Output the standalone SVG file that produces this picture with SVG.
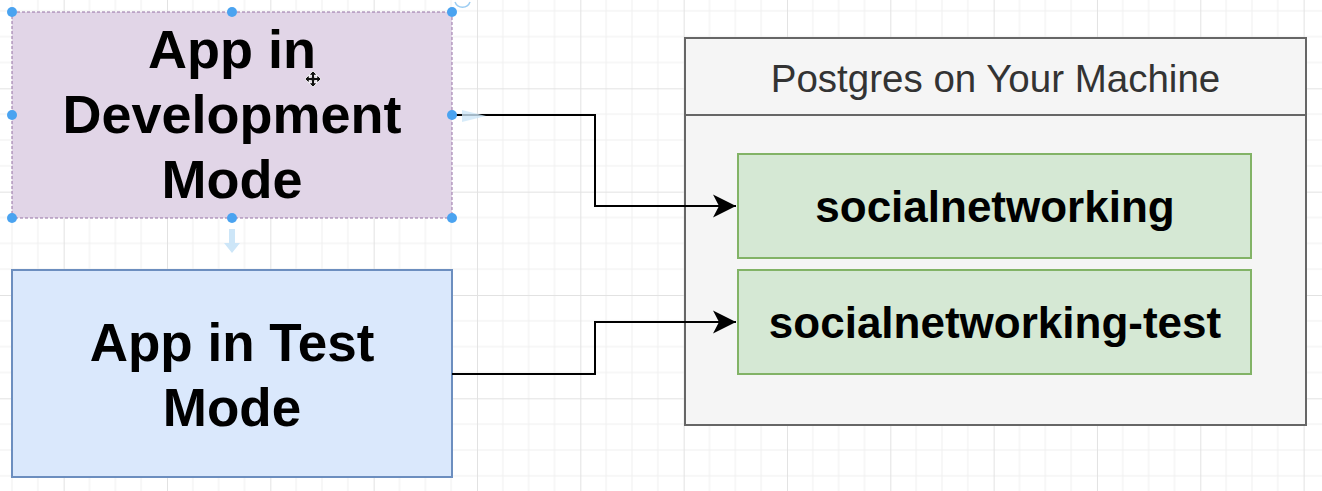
<svg xmlns="http://www.w3.org/2000/svg" width="1322" height="491" viewBox="0 0 1322 491">
<style>
.bold{font-family:"Liberation Sans",Arial,sans-serif;font-weight:bold;fill:#000;text-anchor:middle}
.title{font-family:"Liberation Sans",Arial,sans-serif;fill:#333;text-anchor:middle;font-size:38.5px}
.conn{fill:none;stroke:#000;stroke-width:2}
.handle{fill:#4aa3f0}
.hint{fill:#cde6f8}
</style>
<defs>
<pattern id="grid" patternUnits="userSpaceOnUse" x="63.67" y="88.33" width="103.33" height="103.33">
<path d="M25.83 0V103.33M51.67 0V103.33M77.5 0V103.33M0 25.83H103.33M0 51.67H103.33M0 77.5H103.33" stroke="#f0f0f0" stroke-width="1" fill="none"/>
<path d="M0.5 0V103.33M0 0.5H103.33" stroke="#e2e2e2" stroke-width="1" fill="none"/>
</pattern>
<marker id="arrow" markerUnits="userSpaceOnUse" markerWidth="24" markerHeight="26" viewBox="0 0 24 26" refX="23" refY="13" orient="auto">
<path d="M23 13L0 1.5L6 13L0 24.5Z" fill="#000"/>
</marker>
</defs>
<rect width="1322" height="491" fill="#fff"/>
<rect width="1322" height="491" fill="url(#grid)"/>

<g id="postgres">
<rect x="685" y="38" width="621" height="387" fill="#f5f5f5" stroke="#666" stroke-width="2"/>
<line x1="685" y1="115" x2="1306" y2="115" stroke="#666" stroke-width="2"/>
<text class="title" x="995.5" y="92">Postgres on Your Machine</text>
</g>

<g id="db-dev">
<rect x="738" y="154" width="513" height="104" fill="#d5e8d4" stroke="#82b366" stroke-width="2"/>
<text class="bold" x="995" y="222" font-size="44">socialnetworking</text>
</g>

<g id="db-test">
<rect x="738" y="270" width="513" height="104" fill="#d5e8d4" stroke="#82b366" stroke-width="2"/>
<text class="bold" x="995" y="338" font-size="44">socialnetworking-test</text>
</g>

<g id="app-test">
<rect x="12" y="270" width="440" height="207" fill="#dae8fc" stroke="#6c8ebf" stroke-width="2"/>
<text class="bold" x="232" y="361" font-size="53">App in Test</text>
<text class="bold" x="232" y="426" font-size="53">Mode</text>
</g>

<g id="connectors">
<path class="conn" d="M452 115H595V206H736" marker-end="url(#arrow)"/>
<path class="conn" d="M452 374H595V322H736" marker-end="url(#arrow)"/>
</g>

<g id="app-dev">
<rect x="12" y="12" width="440" height="206" fill="#e1d5e7" stroke="#9673a6" stroke-width="1" stroke-dasharray="3 2"/>
<text class="bold" x="232" y="68" font-size="54">App in</text>
<text class="bold" x="232" y="133" font-size="54">Development</text>
<text class="bold" x="232" y="198" font-size="54">Mode</text>
</g>

<g id="selection">
<path class="hint" d="M462 110L486 116L462 122Z" opacity="0.8"/>
<path class="hint" d="M229 229H235V243H240L232 253L224 243H229Z"/>
<path d="M455 2A8 8 0 0 0 470 2" fill="none" stroke="#9ccdf2" stroke-width="1.5"/>
<circle class="handle" cx="12" cy="12" r="5"/>
<circle class="handle" cx="232" cy="12" r="5"/>
<circle class="handle" cx="452" cy="12" r="5"/>
<circle class="handle" cx="12" cy="115" r="5"/>
<circle class="handle" cx="452" cy="115" r="5"/>
<circle class="handle" cx="12" cy="218" r="5"/>
<circle class="handle" cx="232" cy="218" r="5"/>
<circle class="handle" cx="452" cy="218" r="5"/>
<path d="M313 71L317 75H314.5V77.5H317V75L321 79L317 83V80.5H314.5V83H317L313 87L309 83H311.5V80.5H309V83L305 79L309 75V77.5H311.5V75H309Z" fill="#111" stroke="#fff" stroke-width="0.8"/>
</g>
</svg>
